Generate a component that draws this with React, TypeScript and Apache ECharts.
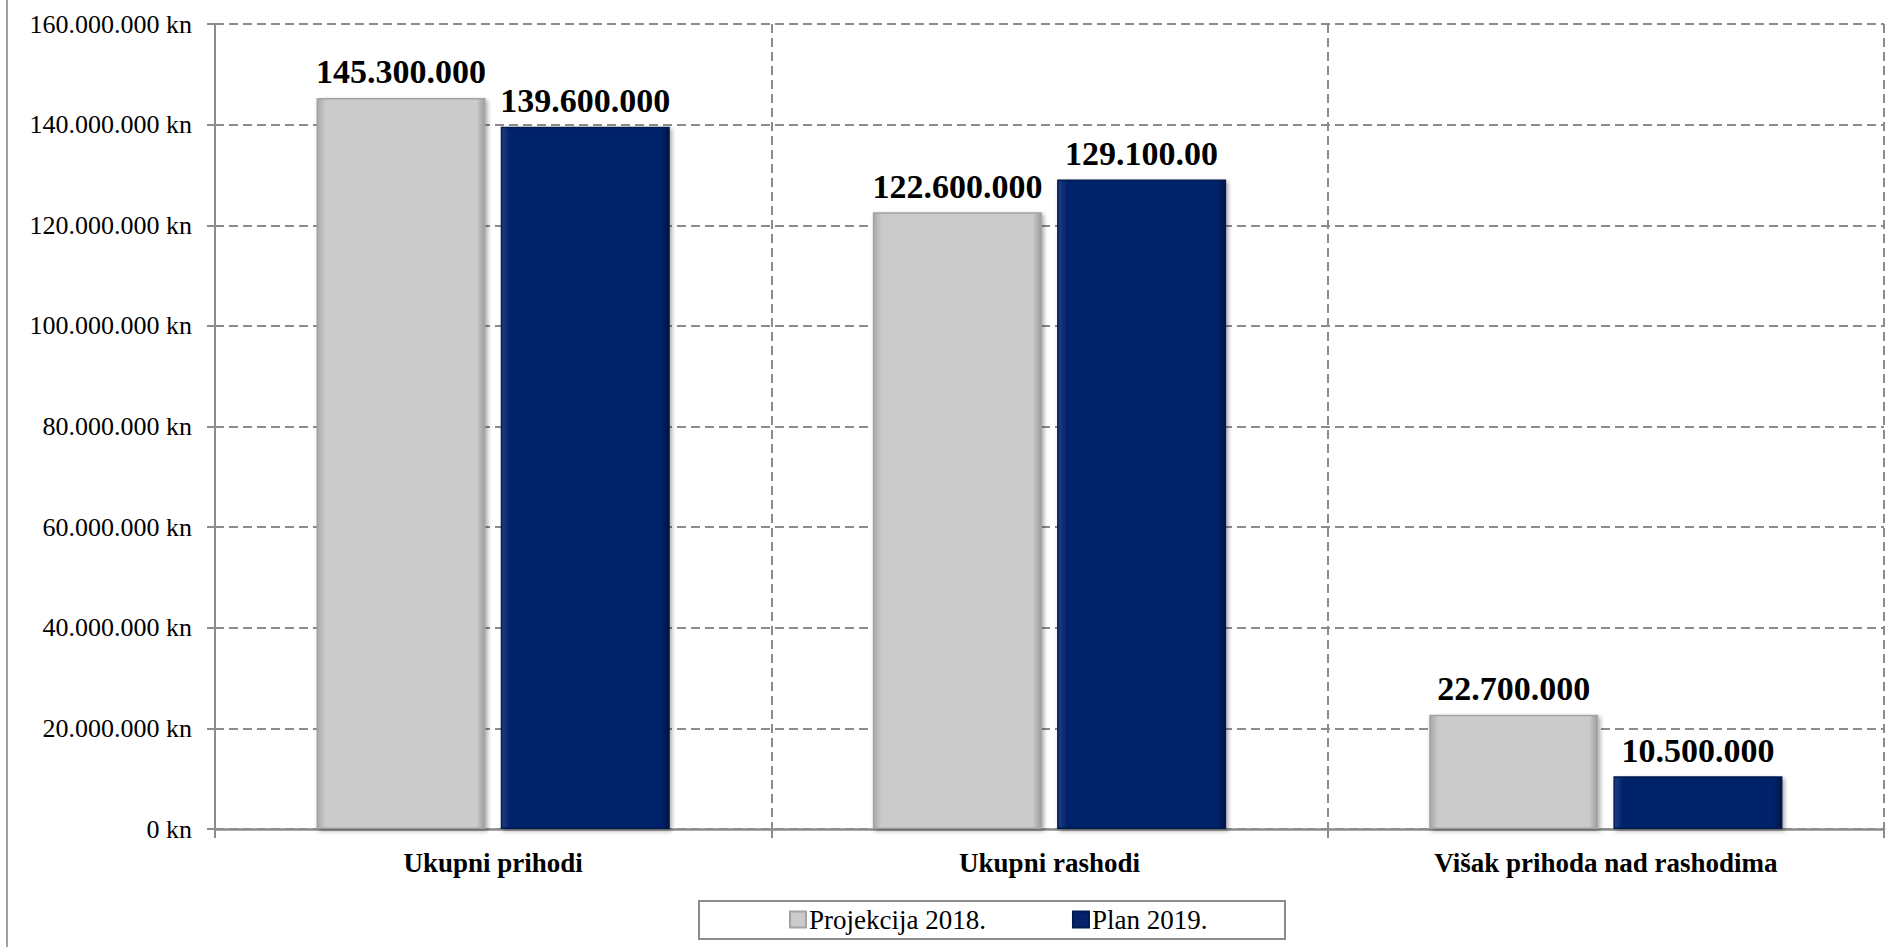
import React, { useEffect, useRef } from "react";
import * as echarts from "echarts";

const categories = ["Ukupni prihodi", "Ukupni rashodi", "Višak prihoda nad rashodima"];
const seriesNames = ["Projekcija 2018.", "Plan 2019."];
const projekcija2018 = [145300000, 122600000, 22700000];
const plan2019 = [139600000, 129100000, 10500000];
const projekcijaLabels = ["145.300.000", "122.600.000", "22.700.000"];
const planLabels = ["139.600.000", "129.100.00", "10.500.000"];
const yMin = 0;
const yMax = 160000000;
const yInterval = 20000000;

const FONT = "Liberation Serif";

function fmtKn(v: number): string {
  const s = Math.round(v).toString().replace(/\B(?=(\d{3})+(?!\d))/g, ".");
  return s + " kn";
}

const grayFill = new echarts.graphic.LinearGradient(0, 0, 1, 0, [
  { offset: 0, color: "#a8a8a8" },
  { offset: 0.05, color: "#cbcbcb" },
  { offset: 0.95, color: "#cbcbcb" },
  { offset: 1, color: "#9c9c9c" },
]);
const blueFill = new echarts.graphic.LinearGradient(0, 0, 1, 0, [
  { offset: 0, color: "#1d3f85" },
  { offset: 0.05, color: "#04236a" },
  { offset: 0.95, color: "#04236a" },
  { offset: 1, color: "#001546" },
]);

export default function App() {
  const ref = useRef<HTMLDivElement>(null);
  useEffect(() => {
    if (!ref.current) return;
    const chart = echarts.init(ref.current, undefined, { renderer: "svg" });
    const labelStyle = {
      show: true,
      position: "top" as const,
      distance: 9,
      fontFamily: FONT,
      fontWeight: "bold" as const,
      fontSize: 34,
      color: "#000",
    };
    chart.setOption({
      animation: false,
      backgroundColor: "#ffffff",
      textStyle: { fontFamily: FONT },
      grid: { left: 215, right: 8, top: 24, bottom: 118, containLabel: false },
      legend: {
        left: 789,
        top: 906,
        icon: "rect",
        itemWidth: 16,
        itemHeight: 16,
        itemGap: 86,
        padding: 0,
        textStyle: { fontFamily: FONT, fontSize: 27, color: "#000", padding: [0, 0, 0, -2] },
        data: seriesNames,
      },
      xAxis: {
        type: "category",
        data: categories,
        axisLine: { lineStyle: { color: "#8c8c8c", width: 2.5 } },
        axisTick: { show: true, length: 9, lineStyle: { color: "#8c8c8c", width: 2 } },
        axisLabel: {
          fontFamily: FONT,
          fontWeight: "bold",
          fontSize: 27,
          color: "#000",
          margin: 20,
        },
        splitLine: {
          show: true,
          lineStyle: { color: "#8c8c8c", width: 2, type: [9, 5] },
        },
      },
      yAxis: {
        type: "value",
        min: yMin,
        max: yMax,
        interval: yInterval,
        axisLine: { show: true, lineStyle: { color: "#8c8c8c", width: 2 } },
        axisTick: { show: true, length: 8, lineStyle: { color: "#8c8c8c", width: 2 } },
        axisLabel: {
          fontFamily: FONT,
          fontSize: 26,
          color: "#000",
          margin: 23,
          formatter: (v: number) => fmtKn(v),
        },
        splitLine: {
          show: true,
          lineStyle: { color: "#8c8c8c", width: 2, type: [9, 5] },
        },
      },
      series: [
        {
          name: seriesNames[0],
          type: "bar",
          data: projekcija2018,
          barGap: "9%",
          barCategoryGap: "36.5%",
          itemStyle: {
            color: grayFill,
            borderColor: "#a3a3a3",
            borderWidth: 1.5,
            shadowColor: "rgba(0,0,0,0.35)",
            shadowBlur: 4,
            shadowOffsetX: 2,
            shadowOffsetY: 2,
          },
          label: { ...labelStyle, formatter: (p: any) => projekcijaLabels[p.dataIndex] },
        },
        {
          name: seriesNames[1],
          type: "bar",
          data: plan2019,
          barGap: "9%",
          barCategoryGap: "36.5%",
          itemStyle: {
            color: blueFill,
            borderColor: "#001a50",
            borderWidth: 1.5,
            shadowColor: "rgba(0,0,0,0.35)",
            shadowBlur: 4,
            shadowOffsetX: 2,
            shadowOffsetY: 2,
          },
          label: { ...labelStyle, formatter: (p: any) => planLabels[p.dataIndex] },
        },
      ],
      graphic: [
        {
          type: "line",
          shape: { x1: 7, y1: 0, x2: 7, y2: 947 },
          style: { stroke: "#a0a0a0", lineWidth: 2 },
          silent: true,
        },
        {
          type: "rect",
          shape: { x: 699, y: 901, width: 586, height: 38 },
          style: { fill: "none", stroke: "#8c8c8c", lineWidth: 2 },
          silent: true,
          z: -1,
        },
      ],
    });
    return () => chart.dispose();
  }, []);
  return (
    <div
      ref={ref}
      style={{ position: "fixed", left: 0, top: 0, width: 1892, height: 947, background: "#fff" }}
    />
  );
}
